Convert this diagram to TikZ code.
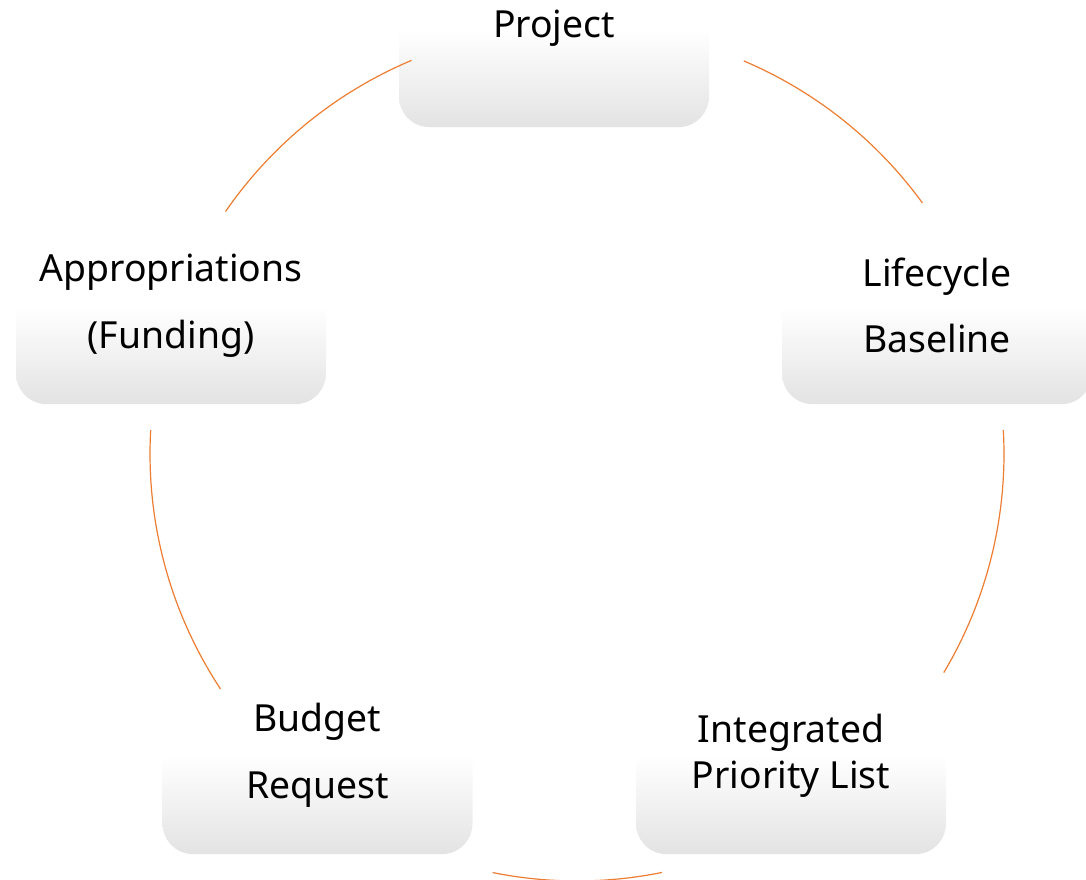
\documentclass[tikz,border=0pt]{standalone}
\usepackage{fontspec}
\setmainfont{Noto Sans}
\usetikzlibrary{arrows.meta}
\definecolor{cycorange}{RGB}{237,125,49}
\definecolor{boxgray}{RGB}{227,227,227}

\begin{document}
\begin{tikzpicture}[x=0.75pt, y=0.75pt,
    box/.style={rounded corners=23pt, minimum width=232.5pt, minimum height=148pt,
        inner sep=0pt, top color=white, bottom color=boxgray, middle color=white,
        align=center, font=\fontsize{28}{50}\selectfont},
    cyc/.style={draw=cycorange, line width=0.9pt}]
    \useasboundingbox (0,0) rectangle (1086,-880);
    \node[box] (proj) at (554,-28.5) {Project};
    \node[box] (life) at (937,-305.5) {Lifecycle\\Baseline};
    \node[box, font=\fontsize{28}{34.5}\selectfont] (ipl) at (791,-755.5) {Integrated\\Priority List};
    \node[box] (budget) at (317.5,-755.5) {Budget\\Request};
    \node[box] (approp) at (171,-305.5) {Appropriations\\(Funding)};
    \coordinate (hub) at (577,-454);
    \draw[cyc] (hub) ++(145.4:427) arc[start angle=145.4, end angle=112.8, radius=427];
    \draw[cyc] (hub) ++(67.0:427) arc[start angle=67.0, end angle=36.0, radius=427];
    \draw[cyc] (hub) ++(3.2:427) arc[start angle=3.2, end angle=-30.8, radius=427];
    \draw[cyc] (hub) ++(-78.5:427) arc[start angle=-78.5, end angle=-101.4, radius=427];
    \draw[cyc] (hub) ++(213.4:427) arc[start angle=213.4, end angle=176.8, radius=427];
\end{tikzpicture}
\end{document}
